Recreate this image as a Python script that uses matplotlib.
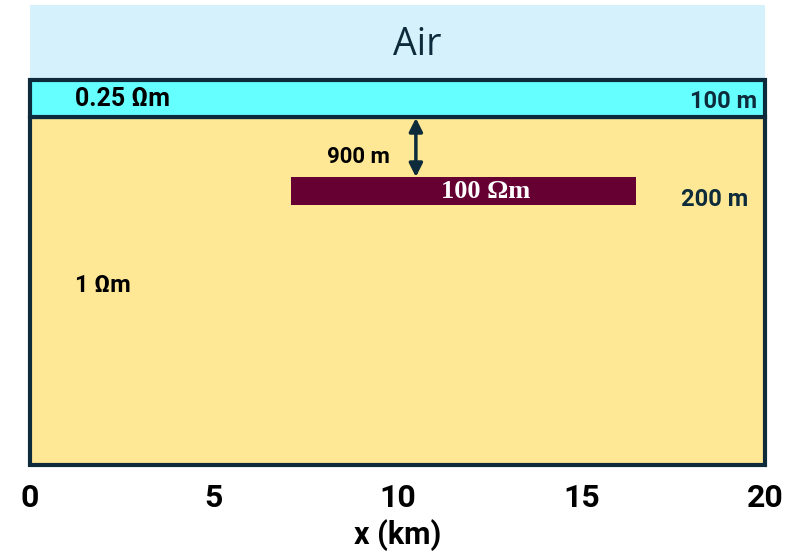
import matplotlib.pyplot as plt
from matplotlib.patches import Rectangle

# model geometry (x in km, z in drawing units, downwards positive)
x_ticks = [0, 5, 10, 15, 20]
x_min, x_max = 0, 20
z_air = [0, 73]          # air layer
z_sea = [75, 112]        # seawater layer
z_sed = [112, 460]       # background sediment
x_res = [7.1, 16.5]      # resistor extent
z_res = [172, 200]       # resistor top/bottom
x_arrow = 10.5

rho_sea = "0.25 Ωm"
rho_sed = "1 Ωm"
rho_res = "100 Ωm"
sea_depth = "100 m"
res_depth = "900 m"
res_thick = "200 m"

dark = "#0d2b3a"

fig = plt.figure(figsize=(8.1, 5.55), dpi=100)
ax = fig.add_axes([30 / 810, 90 / 555, 735 / 810, 460 / 555])
ax.set_xlim(x_min, x_max)
ax.set_ylim(z_sed[1], z_air[0])

# layers
ax.add_patch(Rectangle((x_min, z_air[0]), x_max - x_min, z_air[1] - z_air[0],
                       facecolor="#d4f1fc", edgecolor="none", clip_on=False))
ax.add_patch(Rectangle((x_min, z_sed[0]), x_max - x_min, z_sed[1] - z_sed[0],
                       facecolor="#ffe895", edgecolor=dark, lw=3, clip_on=False))
ax.add_patch(Rectangle((x_min, z_sea[0]), x_max - x_min, z_sea[1] - z_sea[0],
                       facecolor="#66ffff", edgecolor=dark, lw=3, clip_on=False))
ax.add_patch(Rectangle((x_res[0], z_res[0]), x_res[1] - x_res[0], z_res[1] - z_res[0],
                       facecolor="#660033", edgecolor="none"))

# depth arrow from seafloor to top of resistor
ax.annotate("", xy=(x_arrow, z_sea[1] + 1), xytext=(x_arrow, z_res[0]),
            arrowprops=dict(arrowstyle="<|-|>", color=dark, lw=2.5,
                            mutation_scale=20, shrinkA=0, shrinkB=0))

# labels
sans = ["Roboto", "DejaVu Sans"]
ax.text(10.55, 40, "Air", ha="center", va="center", fontsize=27, color=dark,
        family=["Open Sans", "DejaVu Sans"])
ax.text(1.22, 94, rho_sea, ha="left", va="center", fontsize=18, fontweight="bold",
        color="black", family=sans)
ax.text(19.78, 96, sea_depth, ha="right", va="center", fontsize=17,
        fontweight="bold", color=dark, family=sans)
ax.text(9.8, 152, res_depth, ha="right", va="center", fontsize=16,
        fontweight="bold", color="black", family=sans)
ax.text(19.54, 194, res_thick, ha="right", va="center", fontsize=17,
        fontweight="bold", color=dark, family=sans)
ax.text(1.22, 281, rho_sed, ha="left", va="center", fontsize=17,
        fontweight="bold", color="black", family=sans)
ax.text(12.41, 186, rho_res, ha="center", va="center", fontsize=19,
        fontweight="bold", color="white", family=["Liberation Serif", "DejaVu Serif"])

# axis
ax.set_xticks(x_ticks)
ax.set_xticklabels([str(t) for t in x_ticks])
ax.set_yticks([])
ax.tick_params(axis="x", length=0, pad=13, labelsize=23)
for lab in ax.get_xticklabels():
    lab.set_fontweight("bold")
    lab.set_family(sans)
ax.set_xlabel("x (km)", fontsize=22, fontweight="bold", labelpad=4, family=sans)
for s in ax.spines.values():
    s.set_visible(False)

fig.savefig("out.png", dpi=100)
